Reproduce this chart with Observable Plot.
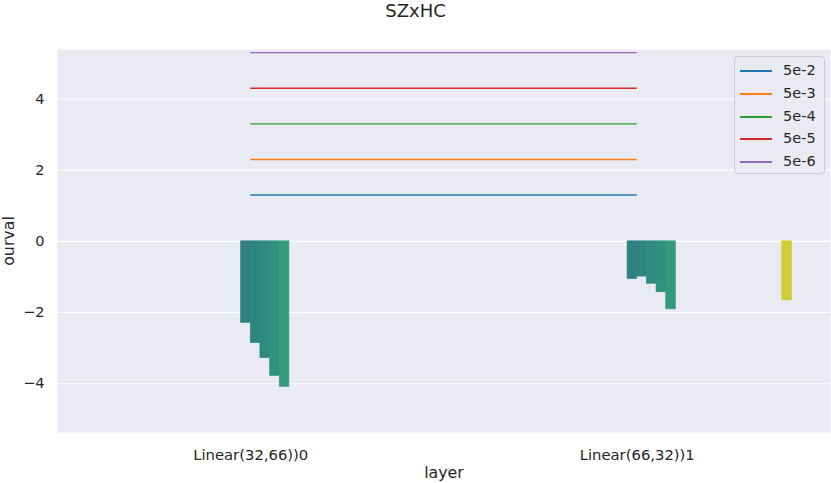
<!DOCTYPE html>
<html>
<head>
<meta charset="utf-8">
<script src="https://cdn.jsdelivr.net/npm/d3@7"></script>
<script src="https://cdn.jsdelivr.net/npm/@observablehq/plot@0.6"></script>
<style>
  html, body { margin: 0; padding: 0; background: #ffffff; }
  body { font-family: "DejaVu Sans", sans-serif; color: #262626; }
  #wrap { position: relative; width: 831px; height: 483px; overflow: hidden; }
  #title { position: absolute; left: 0; top: 1px; width: 831px; height: 30px; text-align: center;
           font-size: 18px; line-height: 20px; }
  #chart { position: absolute; left: 0; top: 40px; }
  #legend { position: absolute; left: 734px; top: 56px; width: 89px; height: 116px;
            background: rgba(234,234,242,0.8); border: 1px solid #cccccc; border-radius: 4px;
            box-sizing: content-box; }
  .item { position: absolute; left: 0; height: 20px; width: 89px; }
  .item .sw { position: absolute; left: 5px; top: 9px; width: 32px; height: 1.5px; }
  .item .lb { position: absolute; left: 48px; top: 1px; font-size: 14.5px; line-height: 16px; color: #262626; }
</style>
</head>
<body>
<div id="wrap">
  <div id="title">SZxHC</div>
  <div id="chart"></div>
  <div id="legend"></div>
</div>
<script>
// ---- data ----
const layers = ["Linear(32,66))0", "Linear(66,32))1"];
const hueCount = 32;
const barLayer = [0, 0, 0, 0, 0, 1, 1, 1, 1, 1, 1];
const barHue   = [15, 16, 17, 18, 19, 15, 16, 17, 18, 19, 31];
const barValue = [-2.29, -2.86, -3.28, -3.78, -4.09, -1.06, -0.99, -1.19, -1.43, -1.91, -1.66];
const thresholdLabels = ["5e-2", "5e-3", "5e-4", "5e-5", "5e-6"];
const thresholdValues = [5e-2, 5e-3, 5e-4, 5e-5, 5e-6];
const lineFrom = 0, lineTo = 1;
const yTicks = [-4, -2, 0, 2, 4];

// ---- styles ----
const lineColors = ["#1f77b4", "#ff7f0e", "#2ca02c", "#d62728", "#9467bd"];
const palette = d3.range(hueCount).map(i => {
  const c = d3.hsl(d3.interpolateViridis((i + 1) / (hueCount + 1)));
  c.s *= 0.75;
  return c.formatHex();
});
const barWidth = 0.8 / hueCount;

const bars = barValue.map((v, i) => ({layer: barLayer[i], hue: barHue[i], value: v}));
const thresholds = thresholdValues.map((v, i) => ({label: thresholdLabels[i], y: -Math.log10(v), color: lineColors[i]}));

const chart = Plot.plot({
  width: 831,
  height: 443,
  marginTop: 9,
  marginBottom: 51,
  marginLeft: 57,
  marginRight: 1,
  style: {fontFamily: "DejaVu Sans, sans-serif", fontSize: "14.5px", color: "#262626", background: "transparent"},
  x: {domain: [-0.5, 1.5]},
  y: {domain: [-5.37, 5.39]},
  color: {type: "identity"},
  marks: [
    Plot.frame({fill: "#eaeaf2", stroke: null}),
    Plot.gridY(yTicks, {stroke: "#ffffff", strokeOpacity: 1, strokeWidth: 1.1}),
    Plot.rect(bars, {
      x1: d => d.layer - 0.4 + d.hue * barWidth,
      x2: d => d.layer - 0.4 + (d.hue + 1) * barWidth,
      y1: () => 0,
      y2: "value",
      fill: d => palette[d.hue],
      stroke: d => palette[d.hue],
      strokeWidth: 0.6
    }),
    Plot.ruleY(thresholds, {y: "y", x1: () => lineFrom, x2: () => lineTo, stroke: "color", strokeWidth: 1.4}),
    Plot.axisY(yTicks, {tickSize: 0, tickPadding: 13, tickFormat: d => d < 0 ? "\u2212" + Math.abs(d) : String(d),
      fontSize: 14.5}),
    Plot.axisY({ticks: [], tickSize: 0, label: "ourval", labelAnchor: "center", labelArrow: "none", labelOffset: 55, fontSize: 15.8}),
    Plot.axisX([0, 1], {tickSize: 0, tickPadding: 17, tickFormat: i => layers[i], fontSize: 14.8}),
    Plot.axisX({ticks: [], tickSize: 0, label: "layer", labelAnchor: "center", labelArrow: "none", labelOffset: 45, fontSize: 15.8})
  ]
});
document.getElementById("chart").appendChild(chart);

// legend (HTML)
const legend = document.getElementById("legend");
thresholds.forEach((t, i) => {
  const it = document.createElement("div");
  it.className = "item";
  it.style.top = Math.round(4 + i * 22.8) + "px";
  const sw = document.createElement("div");
  sw.className = "sw";
  sw.style.background = t.color;
  const lb = document.createElement("div");
  lb.className = "lb";
  lb.textContent = t.label;
  it.appendChild(sw); it.appendChild(lb);
  legend.appendChild(it);
});
</script>
</body>
</html>
